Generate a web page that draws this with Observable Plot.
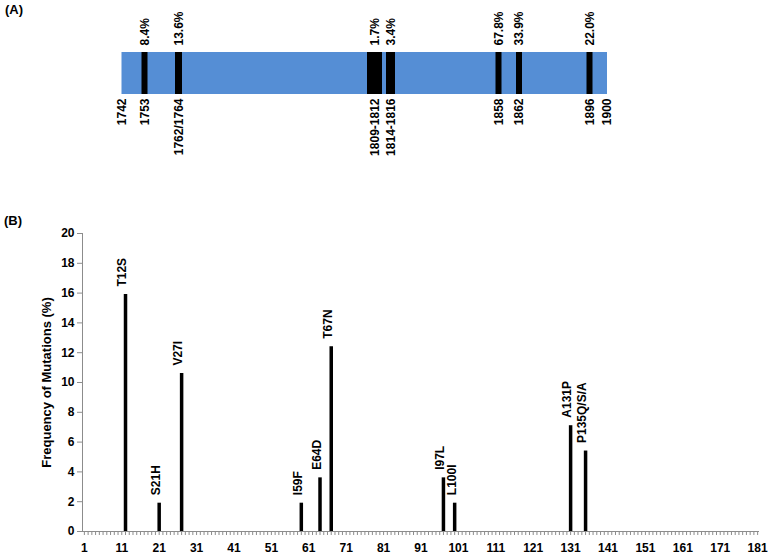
<!DOCTYPE html>
<html><head><meta charset="utf-8">
<script src="https://cdn.jsdelivr.net/npm/d3@7"></script>
<script src="https://cdn.jsdelivr.net/npm/@observablehq/plot@0.6"></script>
<style>
body{margin:0;background:#fff;font-family:"Liberation Sans",Arial,sans-serif;}
#wrap{position:relative;width:770px;height:556px;overflow:hidden;background:#fff}
.panel{position:absolute;left:0}
.tag{position:absolute;font-weight:bold;font-size:13px;line-height:13px;color:#000}
</style></head><body>
<div id="wrap">
 <div id="a" class="panel" style="top:0"></div>
 <div id="b" class="panel" style="top:200px"></div>
 <div class="tag" style="left:5px;top:3px">(A)</div>
 <div class="tag" style="left:4px;top:214px">(B)</div>
</div>
<script>
// ---- Panel A data (nucleotide regions) ----
const geneBounds = [1742, 1900];
const regionLabels = ["1753", "1762/1764", "1809-1812", "1814-1816", "1858", "1862", "1896"];
const regionStart = [1753, 1762, 1809, 1814, 1858, 1862, 1896];
const regionEnd = [1753, 1764, 1812, 1816, 1858, 1862, 1896];
const regionFreq = ["8.4%", "13.6%", "1.7%", "3.4%", "67.8%", "33.9%", "22.0%"];

// ---- Panel B data (amino-acid mutations) ----
const mutations = ["T12S", "S21H", "V27I", "I59F", "E64D", "T67N", "I97L", "L100I", "A131P", "P135Q/S/A"];
const positions = [12, 21, 27, 59, 64, 67, 97, 100, 131, 135];
const frequency = [15.9, 1.9, 10.6, 1.9, 3.6, 12.4, 3.6, 1.9, 7.1, 5.4];
const xTickLabels = [1, 11, 21, 31, 41, 51, 61, 71, 81, 91, 101, 111, 121, 131, 141, 151, 161, 171, 181];
const yTicks = [0, 2, 4, 6, 8, 10, 12, 14, 16, 18, 20];
const positionCount = 181;
const yTitle = "Frequency of Mutations (%)";

const FONT = '"Liberation Sans", Arial, sans-serif';
const font = {fontFamily: FONT, fontSize: 12, fontWeight: "bold", fill: "black"};

const regions = regionLabels.map((label, i) => ({
  label, start: regionStart[i], end: regionEnd[i], freq: regionFreq[i],
  mid: (regionStart[i] + regionEnd[i]) / 2
}));
const bottomLabels = [
  {label: String(geneBounds[0]), pos: geneBounds[0]},
  ...regions.map(r => ({label: r.label, pos: r.mid})),
  {label: String(geneBounds[1]), pos: geneBounds[1]}
];

const plotA = Plot.plot({
  width: 770, height: 185,
  marginTop: 52, marginBottom: 91, marginLeft: 0, marginRight: 0,
  style: {background: "transparent", fontFamily: FONT, fontSize: "12px", color: "black"},
  x: {type: "linear",
      domain: [1742, 1753, 1762, 1764, 1809, 1812, 1814, 1816, 1858, 1862, 1896, 1900],
      range: [121.5, 144.5, 178, 179, 370, 379, 389, 392, 498.5, 519, 589.5, 607],
      axis: null},
  y: {domain: [0, 1], axis: null},
  marks: [
    Plot.rect([geneBounds], {x1: d => d[0], x2: d => d[1], y1: 0, y2: 1, fill: "#558ed5"}),
    Plot.rect(regions, {x1: "start", x2: "end", y1: 0, y2: 1, fill: "black", insetLeft: -3, insetRight: -3}),
    Plot.text(regions, {x: "mid", y: 1, text: "freq", rotate: -90, textAnchor: "start", dy: -7, ...font}),
    Plot.text(bottomLabels, {x: "pos", y: 0, text: "label", rotate: -90, textAnchor: "end", dy: 4, ...font})
  ]
});
document.getElementById("a").appendChild(plotA);

const muts = mutations.map((m, i) => ({m, pos: positions[i], freq: frequency[i]}));
const minorTicks = d3.range(1, positionCount + 1);

const plotB = Plot.plot({
  width: 770, height: 356,
  marginTop: 33, marginBottom: 25, marginLeft: 82, marginRight: 11,
  style: {background: "transparent", fontFamily: FONT, fontSize: "12px", color: "black"},
  x: {domain: [0.5, positionCount + 0.5], label: null},
  y: {domain: [0, 20], label: null},
  marks: [
    Plot.ruleX([0.5], {stroke: "#8c8c8c"}),
    Plot.axisX(minorTicks, {tickSize: 4, tickFormat: () => "", stroke: "#8c8c8c", label: null}),
    Plot.axisX(xTickLabels, {tickSize: 0, tickPadding: 12, label: null, ...font}),
    Plot.axisY(yTicks, {tickSize: 5, tickPadding: 3, stroke: "#8c8c8c", label: null, ...font}),
    Plot.ruleY([0], {stroke: "#8c8c8c"}),
    Plot.ruleX(muts, {x: "pos", y1: 0, y2: "freq", stroke: "black", strokeWidth: 3.5}),
    Plot.text(muts, {x: "pos", y: "freq", text: "m", rotate: -90, textAnchor: "start", dy: -8, dx: -3, ...font}),
    Plot.text([yTitle], {frameAnchor: "left", dx: -36, rotate: -90, textAnchor: "middle", ...font, fontSize: 13})
  ]
});
document.getElementById("b").appendChild(plotB);
</script>
</body></html>
